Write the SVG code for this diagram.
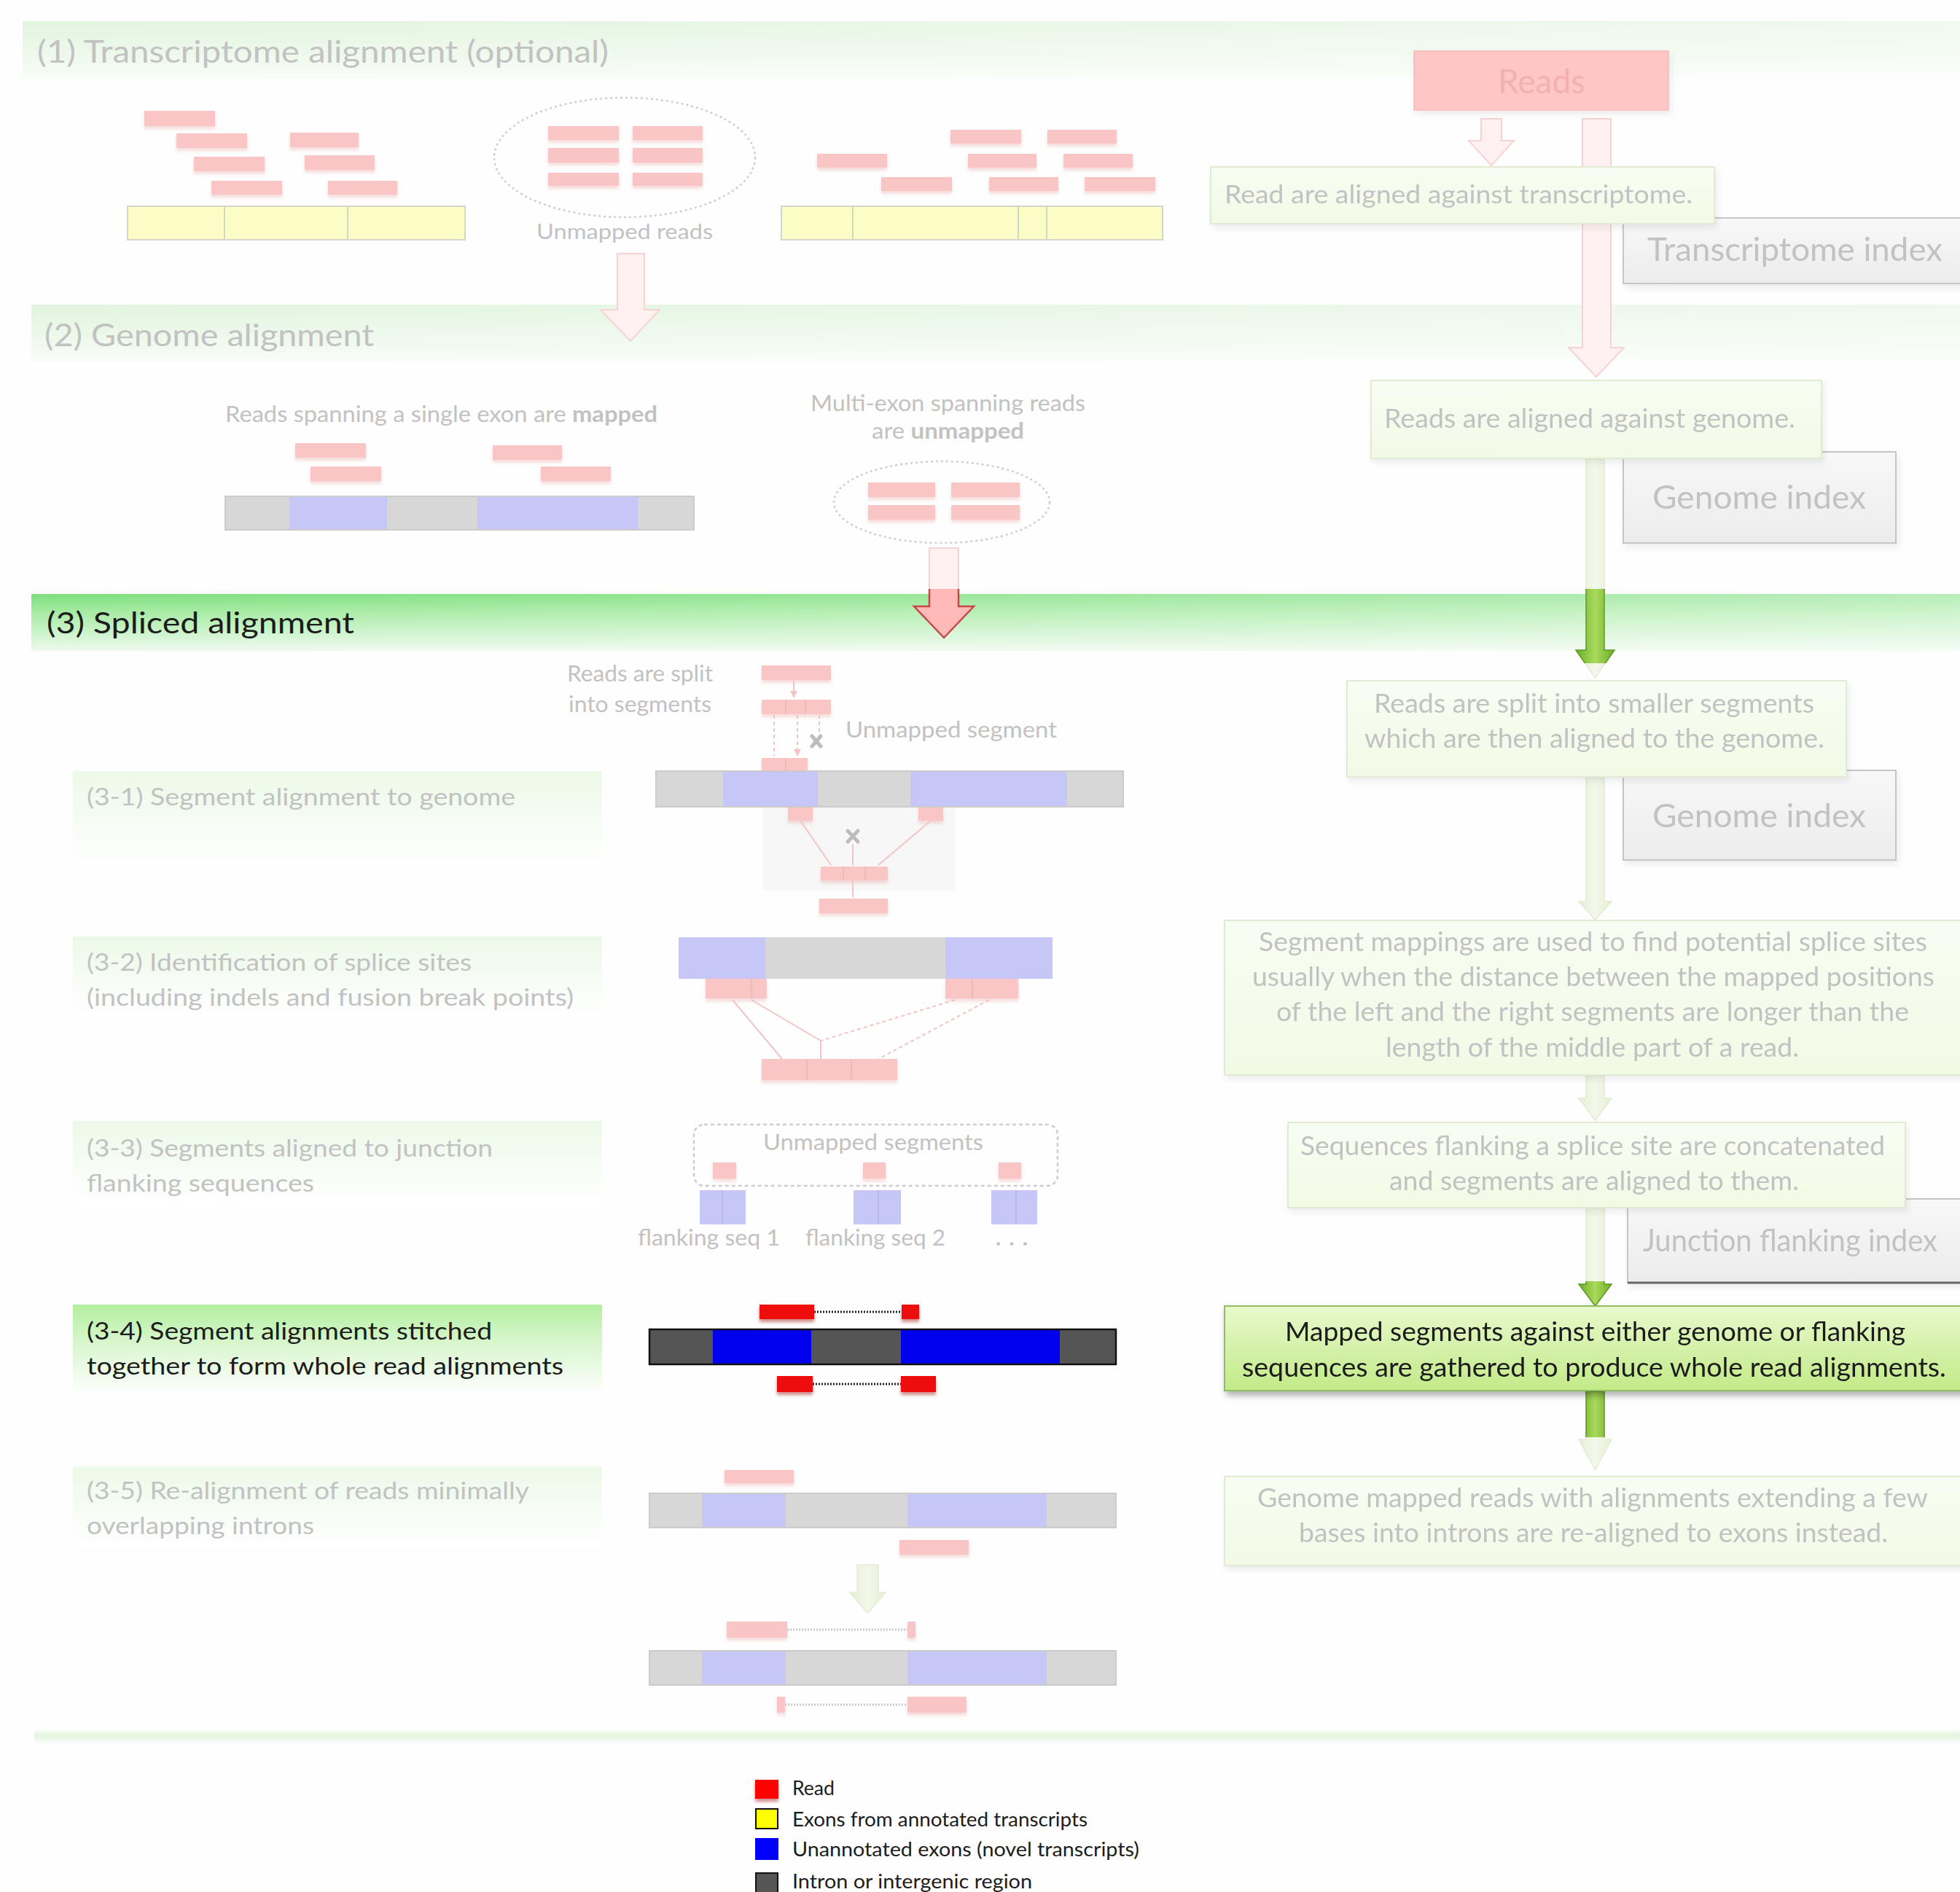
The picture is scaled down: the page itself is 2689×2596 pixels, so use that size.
<svg xmlns="http://www.w3.org/2000/svg" width="2689" height="2596" viewBox="0 0 2689 2596">
<defs>
<style>
text{font-family:Lato,"Open Sans","Liberation Sans",sans-serif}
.pt{fill:#c2c2c2}
.dt{fill:#1c1c1c}
.pr{fill:#fac5c5}
.vr{fill:#ee0a0a}
.pg{fill:#d7d7d7}
.pb{fill:#c7c7f7}
.py{fill:#fcfcc6}
.vg{fill:#555555}
.vb{fill:#0000ee}
.bo{fill:none;stroke:#cbcbcb;stroke-width:2}
.pbox{fill:url(#gBox);stroke:#e1ead3;stroke-width:2}
.ibox{fill:url(#gIdx);stroke:#c6c6c6;stroke-width:2}
.parrow{fill:#fff1f1;stroke:#f5d3d3;stroke-width:2}
.garrow{fill:url(#gStem);stroke:#e3ebd3;stroke-width:1.5}
.vgarrow{fill:url(#gStemV);stroke:#5f9a22;stroke-width:1.5}
.pl{stroke:#f2c4c4;stroke-width:2;fill:none}
.pld{stroke:#f2c4c4;stroke-width:2;fill:none;stroke-dasharray:5 4}
.dot{stroke:#c9c9c9;stroke-width:3;stroke-dasharray:2 2}
.vdot{stroke:#222;stroke-width:3;stroke-dasharray:2 2}
.xm{stroke:#bdbdbd;stroke-width:5;stroke-linecap:round}
</style>
<linearGradient id="gBandP" x1="0" y1="0" x2="0" y2="1">
<stop offset="0" stop-color="#e2f5df"/><stop offset="0.6" stop-color="#eef9ec"/><stop offset="1" stop-color="#f9fdf8"/>
</linearGradient>
<linearGradient id="gBandV" x1="0" y1="0" x2="0" y2="1">
<stop offset="0" stop-color="#7ddf7d"/><stop offset="0.35" stop-color="#a9eca6"/><stop offset="1" stop-color="#eefaee"/>
</linearGradient>
<linearGradient id="gFadeR" x1="0" y1="0" x2="1" y2="0">
<stop offset="0" stop-color="#ffffff" stop-opacity="0"/><stop offset="1" stop-color="#ffffff" stop-opacity="0.45"/>
</linearGradient>
<linearGradient id="gPanelP" x1="0" y1="0" x2="0" y2="1">
<stop offset="0" stop-color="#ecf9e8"/><stop offset="1" stop-color="#ffffff"/>
</linearGradient>
<linearGradient id="gPanelV" x1="0" y1="0" x2="0" y2="1">
<stop offset="0" stop-color="#b3efa0"/><stop offset="0.5" stop-color="#dcf7d2"/><stop offset="1" stop-color="#fbfefa"/>
</linearGradient>
<linearGradient id="gBox" x1="0" y1="0" x2="0" y2="1">
<stop offset="0" stop-color="#f8fdf2"/><stop offset="1" stop-color="#f2fae6"/>
</linearGradient>
<linearGradient id="gIdx" x1="0" y1="0" x2="0" y2="1">
<stop offset="0" stop-color="#f8f8f8"/><stop offset="1" stop-color="#ececec"/>
</linearGradient>
<linearGradient id="gMapped" x1="0" y1="0" x2="0" y2="1">
<stop offset="0" stop-color="#e8f9cc"/><stop offset="1" stop-color="#c2ea88"/>
</linearGradient>
<linearGradient id="gStem" x1="0" y1="0" x2="1" y2="0">
<stop offset="0" stop-color="#e6efd6"/><stop offset="0.5" stop-color="#f3f8ea"/><stop offset="1" stop-color="#e6efd6"/>
</linearGradient>
<linearGradient id="gStemV" x1="0" y1="0" x2="1" y2="0">
<stop offset="0" stop-color="#6fae26"/><stop offset="0.5" stop-color="#a9d95c"/><stop offset="1" stop-color="#6fae26"/>
</linearGradient>
<linearGradient id="gLine" x1="0" y1="0" x2="0" y2="1">
<stop offset="0" stop-color="#f4fbf2"/><stop offset="0.5" stop-color="#e4f5e0"/><stop offset="1" stop-color="#f8fdf7"/>
</linearGradient>
<filter id="shBox" x="-5%" y="-10%" width="115%" height="130%">
<feDropShadow dx="3" dy="5" stdDeviation="4" flood-color="#000" flood-opacity="0.07"/>
</filter>
<filter id="shMapped" x="-5%" y="-10%" width="115%" height="130%">
<feDropShadow dx="3" dy="6" stdDeviation="4" flood-color="#000" flood-opacity="0.3"/>
</filter>
<filter id="shRead" x="-10%" y="-30%" width="120%" height="190%">
<feDropShadow dx="0" dy="4" stdDeviation="2" flood-color="#e89a9a" flood-opacity="0.35"/>
</filter>
<filter id="shReadV" x="-10%" y="-30%" width="120%" height="190%">
<feDropShadow dx="0" dy="4" stdDeviation="2" flood-color="#990000" flood-opacity="0.45"/>
</filter>
<marker id="mPink" viewBox="0 0 10 10" refX="9" refY="5" markerWidth="5" markerHeight="5" orient="auto">
<path d="M0 0L10 5L0 10z" fill="#f2c4c4"/>
</marker>
<clipPath id="hlTop"><rect x="0" y="808" width="2689" height="102"/></clipPath>
<clipPath id="hlMid"><rect x="0" y="1758" width="2689" height="214"/></clipPath>
</defs>

<rect width="2689" height="2596" fill="#fefefe"/>

<!-- stage bands -->
<g id="bands">
<rect x="31" y="29" width="2658" height="79" fill="url(#gBandP)"/>
<rect x="31" y="29" width="2658" height="79" fill="url(#gFadeR)"/>
<text x="51" y="86" font-size="43" class="pt" textLength="784" lengthAdjust="spacingAndGlyphs">(1) Transcriptome alignment (optional)</text>
<rect x="43" y="418" width="2646" height="79" fill="url(#gBandP)"/>
<rect x="43" y="418" width="2646" height="79" fill="url(#gFadeR)"/>
<text x="61" y="475" font-size="43" class="pt" textLength="452" lengthAdjust="spacingAndGlyphs">(2) Genome alignment</text>
<rect x="43" y="815" width="2646" height="78" fill="url(#gBandV)"/>
<rect x="43" y="815" width="2646" height="78" fill="url(#gFadeR)"/>
<text x="64" y="869" font-size="41" class="dt" textLength="422" lengthAdjust="spacingAndGlyphs">(3) Spliced alignment</text>
<rect x="47" y="2374" width="2642" height="17" fill="url(#gLine)"/>
</g>

<!-- step labels on the left -->
<g id="label-3-1">
<rect x="100" y="1058" width="726" height="132" fill="url(#gPanelP)"/>
<text x="119" y="1105" font-size="33" class="pt" textLength="588" lengthAdjust="spacingAndGlyphs">(3-1) Segment alignment to genome</text>
</g>
<g id="label-3-2">
<rect x="100" y="1285" width="726" height="110" fill="url(#gPanelP)"/>
<text x="119" y="1332" font-size="33" class="pt" textLength="528" lengthAdjust="spacingAndGlyphs">(3-2) Identification of splice sites</text>
<text x="119" y="1380" font-size="33" class="pt" textLength="668" lengthAdjust="spacingAndGlyphs">(including indels and fusion break points)</text>
</g>
<g id="label-3-3">
<rect x="100" y="1538" width="726" height="115" fill="url(#gPanelP)"/>
<text x="119" y="1587" font-size="33" class="pt" textLength="557" lengthAdjust="spacingAndGlyphs">(3-3) Segments aligned to junction</text>
<text x="119" y="1635" font-size="33" class="pt" textLength="312" lengthAdjust="spacingAndGlyphs">flanking sequences</text>
</g>
<g id="label-3-4">
<rect x="100" y="1790" width="726" height="118" fill="url(#gPanelV)"/>
<text x="119" y="1838" font-size="33" class="dt" textLength="556" lengthAdjust="spacingAndGlyphs">(3-4) Segment alignments stitched</text>
<text x="119" y="1886" font-size="33" class="dt" textLength="654" lengthAdjust="spacingAndGlyphs">together to form whole read alignments</text>
</g>
<g id="label-3-5">
<rect x="100" y="2012" width="726" height="112" fill="url(#gPanelP)"/>
<text x="119" y="2057" font-size="33" class="pt" textLength="607" lengthAdjust="spacingAndGlyphs">(3-5) Re-alignment of reads minimally</text>
<text x="119" y="2105" font-size="33" class="pt" textLength="312" lengthAdjust="spacingAndGlyphs">overlapping introns</text>
</g>

<!-- connectors -->
<g id="connectors">
<path class="parrow" d="M847 348H884V425H905L865 468L824 425H847Z"/>
<path class="parrow" d="M1275 752H1315V832H1336L1295 875L1254 832H1275Z"/>
<path d="M1275 752H1315V832H1336L1295 875L1254 832H1275Z" fill="#ffb9b9" stroke="#c44a4a" stroke-width="2.5" clip-path="url(#hlTop)"/>
<path class="parrow" d="M2032 163H2060V193H2077L2046 227L2015 193H2032Z"/>
<path class="parrow" d="M2171 163H2210V477H2228L2190 517L2152 477H2171Z"/>
<path class="garrow" d="M2176 630H2201V892H2215L2188.5 930L2162 892H2176Z"/>
<path class="vgarrow" d="M2176 630H2201V892H2215L2188.5 930L2162 892H2176Z" clip-path="url(#hlTop)"/>
<path class="garrow" d="M2176 1067H2201V1237H2211L2188.5 1262L2166 1237H2176Z"/>
<path class="garrow" d="M2176 1476H2201V1507H2211L2188.5 1537L2166 1507H2176Z"/>
<path class="garrow" d="M2176 1658H2201V1762H2211L2188.5 1792L2166 1762H2176Z"/>
<path class="vgarrow" d="M2176 1658H2201V1762H2211L2188.5 1792L2166 1762H2176Z" clip-path="url(#hlMid)"/>
<path class="garrow" d="M2176 1909H2201V1975H2211L2188.5 2017L2166 1975H2176Z"/>
<path class="vgarrow" d="M2176 1909H2201V1975H2211L2188.5 2017L2166 1975H2176Z" clip-path="url(#hlMid)"/>
</g>

<!-- stage 1: transcriptome alignment -->
<g id="tx-left">
<g class="pr" filter="url(#shRead)">
<rect x="198" y="152" width="97" height="21"/>
<rect x="242" y="183" width="97" height="20"/>
<rect x="398" y="182" width="94" height="20"/>
<rect x="266" y="215" width="97" height="20"/>
<rect x="418" y="213" width="96" height="20"/>
<rect x="290" y="248" width="97" height="19"/>
<rect x="450" y="248" width="95" height="19"/>
</g>
<rect x="175" y="283" width="463" height="46" class="py" stroke="#d6d6c6" stroke-width="2"/>
<path d="M308 283V329M477 283V329" stroke="#d6d6c6" stroke-width="2"/>
</g>
<g id="tx-unmapped">
<ellipse cx="857" cy="216" rx="179" ry="82" fill="none" stroke="#cfcfcf" stroke-width="2.5" stroke-dasharray="3 4"/>
<g class="pr" filter="url(#shRead)">
<rect x="752" y="173" width="97" height="19"/>
<rect x="868" y="173" width="96" height="19"/>
<rect x="752" y="203" width="97" height="20"/>
<rect x="868" y="203" width="96" height="20"/>
<rect x="752" y="237" width="97" height="18"/>
<rect x="868" y="237" width="96" height="18"/>
</g>
<text x="857" y="328" font-size="29" class="pt" text-anchor="middle" textLength="242" lengthAdjust="spacingAndGlyphs">Unmapped reads</text>
</g>
<g id="tx-right">
<g class="pr" filter="url(#shRead)">
<rect x="1304" y="178" width="97" height="19"/>
<rect x="1437" y="178" width="95" height="19"/>
<rect x="1121" y="211" width="96" height="19"/>
<rect x="1328" y="211" width="94" height="19"/>
<rect x="1459" y="211" width="95" height="19"/>
<rect x="1209" y="243" width="97" height="19"/>
<rect x="1357" y="243" width="95" height="19"/>
<rect x="1488" y="243" width="97" height="19"/>
</g>
<rect x="1072" y="283" width="523" height="46" class="py" stroke="#d6d6c6" stroke-width="2"/>
<path d="M1170 283V329M1397 283V329M1436 283V329" stroke="#d6d6c6" stroke-width="2"/>
</g>

<!-- stage 2: genome alignment -->
<g id="gn-mapped">
<text x="309" y="579" font-size="30" class="pt" textLength="593" lengthAdjust="spacingAndGlyphs">Reads spanning a single exon are <tspan font-weight="bold">mapped</tspan></text>
<g class="pr" filter="url(#shRead)">
<rect x="405" y="608" width="97" height="20"/>
<rect x="426" y="640" width="97" height="20"/>
<rect x="676" y="611" width="95" height="20"/>
<rect x="742" y="640" width="96" height="20"/>
</g>
<rect x="309" y="681" width="88" height="46" class="pg"/>
<rect x="397" y="681" width="134" height="46" class="pb"/>
<rect x="531" y="681" width="124" height="46" class="pg"/>
<rect x="655" y="681" width="220" height="46" class="pb"/>
<rect x="875" y="681" width="77" height="46" class="pg"/>
<rect x="309" y="681" width="643" height="46" class="bo"/>
</g>
<g id="gn-unmapped">
<text x="1112" y="564" font-size="30" class="pt" textLength="377" lengthAdjust="spacingAndGlyphs">Multi-exon spanning reads</text>
<text x="1196" y="602" font-size="30" class="pt" textLength="209" lengthAdjust="spacingAndGlyphs">are <tspan font-weight="bold">unmapped</tspan></text>
<ellipse cx="1292" cy="689" rx="148" ry="56" fill="none" stroke="#cfcfcf" stroke-width="2.5" stroke-dasharray="3 4"/>
<g class="pr" filter="url(#shRead)">
<rect x="1191" y="662" width="92" height="20"/>
<rect x="1305" y="662" width="94" height="20"/>
<rect x="1191" y="693" width="92" height="20"/>
<rect x="1305" y="693" width="94" height="20"/>
</g>
</g>

<!-- stage 3-1: segment alignment -->
<g id="diag-3-1">
<text x="878" y="935" font-size="30" class="pt" text-anchor="middle" textLength="200" lengthAdjust="spacingAndGlyphs">Reads are split</text>
<text x="878" y="977" font-size="30" class="pt" text-anchor="middle" textLength="196" lengthAdjust="spacingAndGlyphs">into segments</text>
<rect x="1047" y="1107" width="263" height="115" fill="#f7f7f7"/>
<g class="pr" filter="url(#shRead)">
<rect x="1045" y="913" width="95" height="20"/>
<rect x="1045" y="960" width="95" height="20"/>
<rect x="1045" y="1040" width="63" height="19"/>
<rect x="1081" y="1107" width="34" height="19"/>
<rect x="1260" y="1107" width="34" height="19"/>
<rect x="1126" y="1189" width="92" height="19"/>
<rect x="1124" y="1233" width="94" height="20"/>
</g>
<path d="M1078 960V980M1105 960V980M1078 1040V1059M1157 1189V1208M1187 1189V1208" stroke="#eeb4b4" stroke-width="1.5"/>
<path class="pl" d="M1089 933V957" marker-end="url(#mPink)"/>
<path class="pld" d="M1062 981V1037M1094 981V1037" marker-end="url(#mPink)"/>
<path class="pld" d="M1124 981V1006"/>
<path class="xm" d="M1114 1010L1126 1024M1126 1010L1114 1024"/>
<text x="1160" y="1012" font-size="30" class="pt" textLength="290" lengthAdjust="spacingAndGlyphs">Unmapped segment</text>
<rect x="900" y="1058" width="92" height="49" class="pg"/>
<rect x="992" y="1058" width="130" height="49" class="pb"/>
<rect x="1122" y="1058" width="127" height="49" class="pg"/>
<rect x="1249" y="1058" width="215" height="49" class="pb"/>
<rect x="1464" y="1058" width="77" height="49" class="pg"/>
<rect x="900" y="1058" width="641" height="49" class="bo"/>
<path class="pl" d="M1098 1126L1140 1187M1277 1126L1205 1187M1170 1158V1187M1170 1208V1231"/>
<path class="xm" d="M1163 1140L1177 1155M1177 1140L1163 1155"/>
</g>

<!-- stage 3-2: splice site identification -->
<g id="diag-3-2">
<rect x="931" y="1286" width="119" height="57" class="pb"/>
<rect x="1050" y="1286" width="247" height="57" class="pg"/>
<rect x="1297" y="1286" width="147" height="57" class="pb"/>
<g class="pr" filter="url(#shRead)">
<rect x="968" y="1343" width="84" height="27"/>
<rect x="1297" y="1343" width="100" height="27"/>
<rect x="1045" y="1453" width="186" height="29"/>
</g>
<path d="M1031 1343V1370M1334 1343V1370M1107 1453V1482M1168 1453V1482" stroke="#eeb4b4" stroke-width="1.5"/>
<path class="pl" d="M1005 1372L1073 1453M1031 1372L1126 1428V1453"/>
<path class="pld" d="M1310 1372L1126 1428M1357 1372L1205 1453"/>
</g>

<!-- stage 3-3: junction flanking sequences -->
<g id="diag-3-3">
<rect x="952" y="1543" width="499" height="84" rx="14" fill="none" stroke="#cdcdcd" stroke-width="2.5" stroke-dasharray="5 4"/>
<text x="1198" y="1578" font-size="30" class="pt" text-anchor="middle" textLength="302" lengthAdjust="spacingAndGlyphs">Unmapped segments</text>
<g class="pr" filter="url(#shRead)">
<rect x="978" y="1595" width="32" height="22"/>
<rect x="1184" y="1595" width="31" height="22"/>
<rect x="1370" y="1595" width="31" height="22"/>
</g>
<rect x="960" y="1633" width="63" height="47" class="pb"/>
<rect x="1171" y="1633" width="65" height="47" class="pb"/>
<rect x="1360" y="1633" width="63" height="47" class="pb"/>
<path d="M991 1633V1680M1205 1633V1680M1394 1633V1680" stroke="#b4b4ea" stroke-width="1.5"/>
<text x="875" y="1709" font-size="30" class="pt" textLength="195" lengthAdjust="spacingAndGlyphs">flanking seq 1</text>
<text x="1105" y="1709" font-size="30" class="pt" textLength="192" lengthAdjust="spacingAndGlyphs">flanking seq 2</text>
<text x="1366" y="1709" font-size="30" font-weight="bold" class="pt" textLength="44" lengthAdjust="spacing">...</text>
</g>

<!-- stage 3-4: stitched alignments -->
<g id="diag-3-4">
<g class="vr" filter="url(#shReadV)">
<rect x="1042" y="1790" width="75" height="20"/>
<rect x="1237" y="1790" width="24" height="20"/>
<rect x="1066" y="1888" width="49" height="22"/>
<rect x="1236" y="1888" width="48" height="22"/>
</g>
<path class="vdot" d="M1117 1800H1237M1115 1899H1236"/>
<rect x="891" y="1824" width="87" height="48" class="vg"/>
<rect x="978" y="1824" width="135" height="48" class="vb"/>
<rect x="1113" y="1824" width="123" height="48" class="vg"/>
<rect x="1236" y="1824" width="218" height="48" class="vb"/>
<rect x="1454" y="1824" width="77" height="48" class="vg"/>
<rect x="891" y="1824" width="640" height="48" fill="none" stroke="#111" stroke-width="2.5"/>
</g>

<!-- stage 3-5: re-alignment -->
<g id="diag-3-5">
<g class="pr" filter="url(#shRead)">
<rect x="994" y="2017" width="95" height="18"/>
<rect x="1234" y="2113" width="95" height="20"/>
<rect x="997" y="2225" width="83" height="22"/>
<rect x="1245" y="2225" width="11" height="22"/>
<rect x="1066" y="2328" width="11" height="22"/>
<rect x="1245" y="2328" width="81" height="22"/>
</g>
<path class="dot" d="M1080 2236H1245M1077 2339H1245"/>
<rect x="891" y="2049" width="72" height="47" class="pg"/>
<rect x="963" y="2049" width="115" height="47" class="pb"/>
<rect x="1078" y="2049" width="167" height="47" class="pg"/>
<rect x="1245" y="2049" width="191" height="47" class="pb"/>
<rect x="1436" y="2049" width="95" height="47" class="pg"/>
<rect x="891" y="2049" width="640" height="47" class="bo"/>
<path class="garrow" d="M1176 2147H1205V2185H1215L1190.5 2213L1166 2185H1176Z"/>
<rect x="891" y="2265" width="72" height="47" class="pg"/>
<rect x="963" y="2265" width="115" height="47" class="pb"/>
<rect x="1078" y="2265" width="167" height="47" class="pg"/>
<rect x="1245" y="2265" width="191" height="47" class="pb"/>
<rect x="1436" y="2265" width="95" height="47" class="pg"/>
<rect x="891" y="2265" width="640" height="47" class="bo"/>
</g>

<!-- pipeline column: index boxes -->
<g id="idx-transcriptome" filter="url(#shBox)">
<rect x="2227" y="299" width="470" height="90" class="ibox"/>
<text x="2260" y="358" font-size="45" class="pt" textLength="405" lengthAdjust="spacingAndGlyphs">Transcriptome index</text>
</g>
<g id="idx-genome-1" filter="url(#shBox)">
<rect x="2227" y="620" width="374" height="125" class="ibox"/>
<text x="2267" y="698" font-size="45" class="pt" textLength="293" lengthAdjust="spacingAndGlyphs">Genome index</text>
</g>
<g id="idx-genome-2" filter="url(#shBox)">
<rect x="2227" y="1057" width="374" height="123" class="ibox"/>
<text x="2267" y="1135" font-size="45" class="pt" textLength="293" lengthAdjust="spacingAndGlyphs">Genome index</text>
</g>
<g id="idx-junction" filter="url(#shBox)">
<rect x="2233" y="1645" width="470" height="115" class="ibox"/>
<path d="M2233 1760H2689" stroke="#666" stroke-width="3" clip-path="url(#hlMid)"/>
<text x="2254" y="1717" font-size="43" class="pt" textLength="404" lengthAdjust="spacingAndGlyphs">Junction flanking index</text>
</g>

<!-- pipeline column: step boxes -->
<g id="box-reads" filter="url(#shBox)">
<rect x="1940" y="70" width="349" height="81" fill="#ffc6c6" stroke="#f7b8b8" stroke-width="1.5"/>
<text x="2115" y="128" font-size="47" fill="#f3b0b0" text-anchor="middle" textLength="120" lengthAdjust="spacingAndGlyphs">Reads</text>
</g>
<g id="box-tx-align" filter="url(#shBox)">
<rect x="1661" y="229" width="691" height="78" class="pbox"/>
<text x="1680" y="279" font-size="35" class="pt" textLength="642" lengthAdjust="spacingAndGlyphs">Read are aligned against transcriptome.</text>
</g>
<g id="box-gn-align" filter="url(#shBox)">
<rect x="1881" y="522" width="618" height="107" class="pbox"/>
<text x="1899" y="587" font-size="36" class="pt" textLength="564" lengthAdjust="spacingAndGlyphs">Reads are aligned against genome.</text>
</g>
<g id="box-split" filter="url(#shBox)">
<rect x="1848" y="934" width="685" height="132" class="pbox"/>
<text x="1885" y="978" font-size="36" class="pt" textLength="604" lengthAdjust="spacingAndGlyphs">Reads are split into smaller segments</text>
<text x="1872" y="1026" font-size="36" class="pt" textLength="631" lengthAdjust="spacingAndGlyphs">which are then aligned to the genome.</text>
</g>
<g id="box-splice-sites" filter="url(#shBox)">
<rect x="1680" y="1263" width="1020" height="212" class="pbox"/>
<text x="1727" y="1305" font-size="36" class="pt" textLength="917" lengthAdjust="spacingAndGlyphs">Segment mappings are used to find potential splice sites</text>
<text x="1718" y="1353" font-size="36" class="pt" textLength="936" lengthAdjust="spacingAndGlyphs">usually when the distance between the mapped positions</text>
<text x="1751" y="1401" font-size="36" class="pt" textLength="868" lengthAdjust="spacingAndGlyphs">of the left and the right segments are longer than the</text>
<text x="1901" y="1450" font-size="36" class="pt" textLength="567" lengthAdjust="spacingAndGlyphs">length of the middle part of a read.</text>
</g>
<g id="box-flanking" filter="url(#shBox)">
<rect x="1767" y="1540" width="847" height="117" class="pbox"/>
<text x="1784" y="1585" font-size="36" class="pt" textLength="802" lengthAdjust="spacingAndGlyphs">Sequences flanking a splice site are concatenated</text>
<text x="1906" y="1633" font-size="36" class="pt" textLength="562" lengthAdjust="spacingAndGlyphs">and segments are aligned to them.</text>
</g>
<g id="box-stitch" filter="url(#shMapped)">
<rect x="1680" y="1792" width="1020" height="116" fill="url(#gMapped)" stroke="#8fbf5e" stroke-width="2"/>
<text x="1763" y="1840" font-size="37" class="dt" textLength="851" lengthAdjust="spacingAndGlyphs">Mapped segments against either genome or flanking</text>
<text x="1704" y="1889" font-size="37" class="dt" textLength="966" lengthAdjust="spacingAndGlyphs">sequences are gathered to produce whole read alignments.</text>
</g>
<g id="box-realign" filter="url(#shBox)">
<rect x="1680" y="2026" width="1020" height="122" class="pbox"/>
<text x="1725" y="2068" font-size="36" class="pt" textLength="920" lengthAdjust="spacingAndGlyphs">Genome mapped reads with alignments extending a few</text>
<text x="1782" y="2116" font-size="36" class="pt" textLength="808" lengthAdjust="spacingAndGlyphs">bases into introns are re-aligned to exons instead.</text>
</g>

<!-- colour key -->
<g id="legend">
<rect x="1036" y="2442" width="32" height="26" fill="#ff0000" filter="url(#shReadV)"/>
<text x="1087" y="2463" font-size="26" class="dt" textLength="58" lengthAdjust="spacingAndGlyphs">Read</text>
<rect x="1037" y="2482" width="30" height="27" fill="#ffff00" stroke="#111" stroke-width="2"/>
<text x="1087" y="2506" font-size="26" class="dt" textLength="405" lengthAdjust="spacingAndGlyphs">Exons from annotated transcripts</text>
<rect x="1036" y="2522" width="32" height="30" fill="#0000ff"/>
<text x="1087" y="2547" font-size="26" class="dt" textLength="476" lengthAdjust="spacingAndGlyphs">Unannotated  exons (novel transcripts)</text>
<rect x="1037" y="2570" width="30" height="28" fill="#555555" stroke="#111" stroke-width="2"/>
<text x="1087" y="2591" font-size="26" class="dt" textLength="329" lengthAdjust="spacingAndGlyphs">Intron or intergenic region</text>
</g>
</svg>
